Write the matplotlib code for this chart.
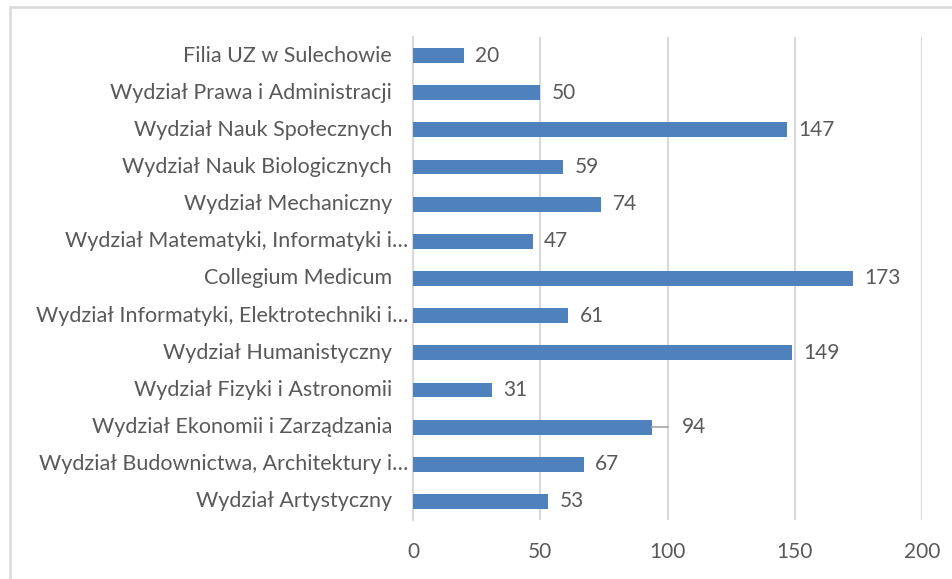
import matplotlib.pyplot as plt
import matplotlib.transforms as mtransforms
from matplotlib.patches import Rectangle

categories = [
    "Wydział Artystyczny",
    "Wydział Budownictwa, Architektury i…",
    "Wydział Ekonomii i Zarządzania",
    "Wydział Fizyki i Astronomii",
    "Wydział Humanistyczny",
    "Wydział Informatyki, Elektrotechniki i…",
    "Collegium Medicum",
    "Wydział Matematyki, Informatyki i…",
    "Wydział Mechaniczny",
    "Wydział Nauk Biologicznych",
    "Wydział Nauk Społecznych",
    "Wydział Prawa i Administracji",
    "Filia UZ w Sulechowie",
]
values = [53, 67, 94, 31, 149, 61, 173, 47, 74, 59, 147, 50, 20]
xticks = [0, 50, 100, 150, 200]

plt.rcParams['font.family'] = ['Lato', 'DejaVu Sans']
text_color = '#595959'
bar_color = '#4F81BD'
grid_color = '#D9D9D9'

fig = plt.figure(figsize=(9.53, 5.79), dpi=100)
ax = fig.add_axes([413 / 953, 59 / 579, 509 / 953, 483 / 579])

ypos = range(len(categories))
ax.barh(ypos, values, height=0.4, color=bar_color, zorder=3)

for y, v in zip(ypos, values):
    if v == 94:
        # label pushed out with a leader line
        ax.plot([v, v + 6], [y, y], color='#A6A6A6', lw=1.2, zorder=3)
        ax.text(v + 11.5, y, str(v), va='center', ha='left', fontsize=15, color=text_color)
    else:
        ax.text(v + 4.5, y, str(v), va='center', ha='left', fontsize=15, color=text_color)

# category labels drawn by hand: truncated ones sit closer to the axis
for y, name in zip(ypos, categories):
    gap = 5 if name.endswith('…') else 21
    trans = mtransforms.offset_copy(ax.get_yaxis_transform(), fig=fig, x=-gap, y=0, units='dots')
    ax.text(0, y, name, transform=trans, ha='right', va='center',
            fontsize=15.5, color=text_color)

ax.set_xlim(0, 200)
ax.set_ylim(-0.5, len(categories) - 0.5)
ax.set_xticks(xticks)
ax.set_yticks([])
ax.tick_params(axis='both', length=0, labelsize=15, labelcolor=text_color)
ax.tick_params(axis='x', pad=16)
ax.xaxis.grid(True, color=grid_color, lw=1.5, zorder=0)

for s in ['top', 'right', 'bottom']:
    ax.spines[s].set_visible(False)
ax.spines['left'].set_color(grid_color)
ax.spines['left'].set_linewidth(1.5)

# chart border, cut off by the image edge on right and bottom
fig.patches.append(Rectangle((10 / 953, -0.05), 1.0, (579 - 7) / 579 + 0.05,
                             transform=fig.transFigure, fill=False,
                             edgecolor=grid_color, lw=1.8))

plt.savefig('out.png', dpi=100)
